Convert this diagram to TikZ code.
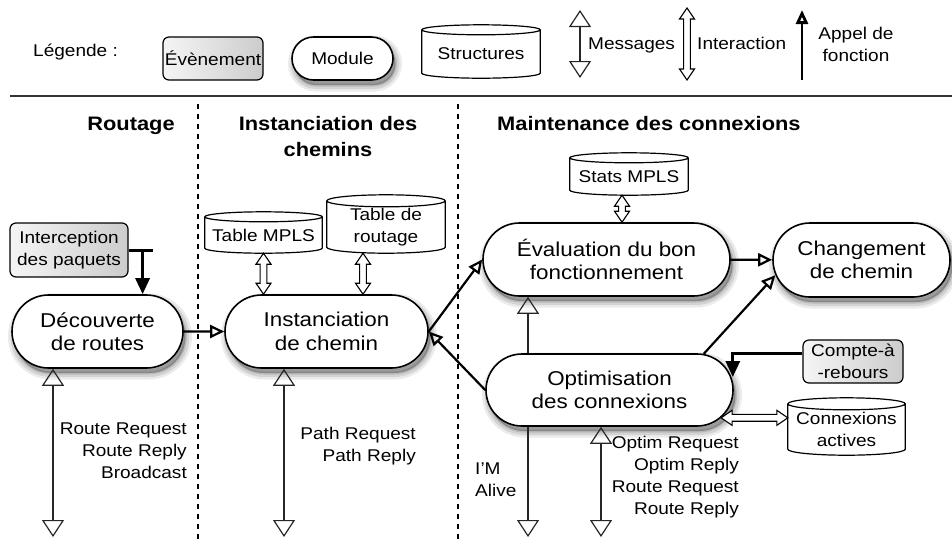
\documentclass[tikz,border=0pt]{standalone}
\usepackage{fontspec}
\setmainfont{Liberation Sans}[FakeStretch=1.12]
\usetikzlibrary{arrows.meta,shapes.misc,shadows,calc,backgrounds}
\newcommand\smallfs{\fontsize{17}{22}\selectfont}
\newcommand\modfs{\fontsize{20}{23.5}\selectfont}
\newcommand\headfs{\fontsize{19.5}{26}\selectfont\bfseries}
\newcommand\iaHL{11pt}
\newcommand\iaHH{7.5pt}
\newcommand\iaHW{3.4pt}
\newcommand\interarrow[2]{%
  \path (#1) coordinate (ia) (#2) coordinate (ib);
  \path ($(ia)!\iaHL!(ib)$) coordinate (ia1) ($(ib)!\iaHL!(ia)$) coordinate (ib1);
  \draw[interline] (ia) -- ($(ia1)!\iaHH!90:(ib)$) -- ($(ia1)!\iaHW!90:(ib)$)
    -- ($(ib1)!\iaHW!-90:(ia)$) -- ($(ib1)!\iaHH!-90:(ia)$) -- (ib)
    -- ($(ib1)!\iaHH!90:(ia)$) -- ($(ib1)!\iaHW!90:(ia)$)
    -- ($(ia1)!\iaHW!-90:(ib)$) -- ($(ia1)!\iaHH!-90:(ib)$) -- cycle;}
\newcommand\drawcyl[2]{%
  \draw[cylline] let \p1=(#1.north west), \p2=(#1.south east), \n1={(\x2-\x1)/2} in
    (\x1,\y1) -- (\x1,\y2+#2) arc[start angle=180,end angle=360,x radius=\n1,y radius=#2]
    -- (\x2,\y1) arc[start angle=0,end angle=180,x radius=\n1,y radius=#2] -- cycle
    (\x1,\y1) arc[start angle=180,end angle=360,x radius=\n1,y radius=#2];}
\begin{document}
\begin{tikzpicture}[x=1pt,y=-1pt,
  every node/.style={font=\smallfs, inner sep=0pt},
  modshadow/.style={
    general shadow={shadow xshift=2.5pt, shadow yshift=-5pt, fill=black, fill opacity=0.08, draw=black, draw opacity=0.08, line width=13pt},
    general shadow={shadow xshift=2.5pt, shadow yshift=-5pt, fill=black, fill opacity=0.1, draw=black, draw opacity=0.1, line width=8pt},
    general shadow={shadow xshift=2.5pt, shadow yshift=-5pt, fill=black, fill opacity=0.12, draw=black, draw opacity=0.12, line width=3pt}},
  module/.style={rounded rectangle, draw=black, line width=1.6pt, fill=white, align=center, font=\modfs, modshadow},
  event/.style={rectangle, rounded corners=6pt, draw=black, line width=1.2pt, left color=gray!8, right color=gray!40, align=center},
  cylbox/.style={rectangle, align=center},
  cylline/.style={line width=1.2pt, draw=black, fill=white},
  interline/.style={line width=1.1pt, draw=black, fill=white, line join=miter},
  msgline/.style={line width=1.2pt, draw=black!85},
  msgboth/.style={msgline, {Triangle[open,length=17pt,width=22pt]}-{Triangle[open,length=17pt,width=22pt]}},
  msgend/.style={msgline, -{Triangle[open,length=17pt,width=22pt]}},
  modarrow/.style={line width=2.2pt, -{Triangle[open,length=14pt,width=13pt]}},
  callline/.style={line width=3pt},
  call/.style={callline, -{Triangle[length=16pt,width=14pt]}},
  legcall/.style={line width=2.8pt, -{Triangle[open,length=14pt,width=12pt]}},
  sepdash/.style={line width=1.3pt, dash pattern=on 5pt off 5pt}]
\useasboundingbox (0,0) rectangle (952,539);

% ---------- legend ----------
\node[anchor=base west] (legtitle) at (33,56) {Légende :};
\node[event, minimum width=100pt, minimum height=43pt] (evt) at (213,58.5) {Évènement};
\node[module, font=\smallfs, minimum width=101pt, minimum height=43pt] (mod) at (342.5,58.5) {Module};
\node[cylbox, minimum width=118pt, minimum height=48pt] (struct) at (481,54) {Structures};
\coordinate (msgT) at (580,10);
\coordinate (msgB) at (580,78);
\draw[msgboth] (msgT) -- (msgB);
\node[anchor=base west] (msglab) at (588,49) {Messages};
\coordinate (intT) at (687,8);
\coordinate (intB) at (687,80);
\interarrow{intT}{intB}
\node[anchor=base west] (intlab) at (697,49) {Interaction};
\coordinate (callB) at (802,80);
\coordinate (callT) at (802,10);
\draw[legcall] (callB) -- (callT);
\node[align=center] (calllab) at (856,44) {Appel de\\fonction};

\coordinate (sepL) at (10,96);
\coordinate (sepR) at (952,96);
\draw[line width=2pt, black!80] (sepL) -- (sepR);

\draw[sepdash] (198,104) -- (198,539);
\draw[sepdash] (458,104) -- (458,539);

% ---------- headings ----------
\node[anchor=base, font=\headfs] (h1) at (131,130) {Routage};
\node[align=center, font=\headfs] (h2) at (328,136.5) {Instanciation des\\chemins};
\node[anchor=base west, font=\headfs] (h3) at (497,130) {Maintenance des connexions};

% ---------- nodes ----------
\node[event, minimum width=118pt, minimum height=54pt] (interc) at (69,250) {Interception\\des paquets};
\node[module, minimum width=171pt, minimum height=73pt] (decouv) at (97.5,331.5) {Découverte\\de routes};
\node[module, minimum width=203pt, minimum height=73pt] (inst) at (326.5,331.5) {Instanciation\\de chemin};
\node[cylbox, minimum width=117pt, minimum height=36pt] (mpls) at (263.5,235) {Table MPLS};
\node[cylbox, minimum width=118pt, minimum height=52pt] (troutage) at (386,227) {Table de\\routage};
\node[cylbox, minimum width=118pt, minimum height=37pt] (stats) at (629,176.5) {Stats MPLS};
\node[module, minimum width=247pt, minimum height=73pt] (eval) at (606.5,259.5) {Évaluation du bon\\fonctionnement};
\node[module, minimum width=177pt, minimum height=74pt] (chg) at (861.5,260) {Changement\\de chemin};
\node[module, minimum width=247pt, minimum height=72pt] (optim) at (609.5,390) {Optimisation\\des connexions};
\node[event, minimum width=100pt, minimum height=43pt] (compte) at (853,361.5) {Compte-à\\-rebours};
\node[cylbox, minimum width=117pt, minimum height=51pt] (connex) at (846.5,429.5) {Connexions\\actives};

\begin{pgfonlayer}{background}
\drawcyl{struct}{5pt}
\drawcyl{mpls}{5pt}
\drawcyl{troutage}{6pt}
\drawcyl{stats}{5pt}
\drawcyl{connex}{6pt}
\end{pgfonlayer}

% ---------- labels ----------
\node[align=right, anchor=east] (lab1) at (187,450.5) {Route Request\\Route Reply\\Broadcast};
\node[align=right, anchor=east] (lab2) at (416,446.5) {Path Request\\Path Reply};
\node[align=left, anchor=west] (lab3) at (475,480) {I'M\\Alive};
\node[align=right, anchor=east] (lab4) at (739,477.5) {Optim Request\\Optim Reply\\Route Request\\Route Reply};

% ---------- connectors ----------
\coordinate (tbar) at (153,250);
\draw[callline] (interc.east) -- (tbar);
\coordinate (tdrop) at ($(interc.east)+(14,0)$);
\draw[call] (tdrop) -- (tdrop |- decouv.north);

\draw[modarrow] (decouv) -- (inst);
\draw[modarrow] (inst.east) -- (eval.west);
\draw[modarrow] (optim.west) -- (inst.east);
\draw[modarrow] (eval) -- (chg);
\draw[modarrow] (optim.21) -- (chg.190);
\draw[call] ([yshift=8pt]compte.west) -| ([xshift=-1pt,yshift=13pt]optim.east);

\interarrow{mpls.south}{mpls.south |- inst.north}
\coordinate (trS) at ([xshift=-23pt]troutage.south);
\interarrow{trS}{trS |- inst.north}
\coordinate (stS) at ([xshift=-7pt]stats.south);
\interarrow{stS}{stS |- eval.north}
\interarrow{optim.346}{optim.346 -| connex.west}

\coordinate (m1b) at (53,537);
\draw[msgboth] (m1b |- decouv.south) -- (m1b);
\coordinate (m2b) at (284,537);
\draw[msgboth] (m2b |- inst.south) -- (m2b);
\coordinate (m3b) at (528,537);
\draw[msgend] (m3b |- optim.south) -- (m3b);
\draw[msgend] (m3b |- optim.north) -- (m3b |- eval.south);
\coordinate (m4b) at (601,537);
\draw[msgboth] (m4b |- optim.south) -- (m4b);
\end{tikzpicture}
\end{document}
